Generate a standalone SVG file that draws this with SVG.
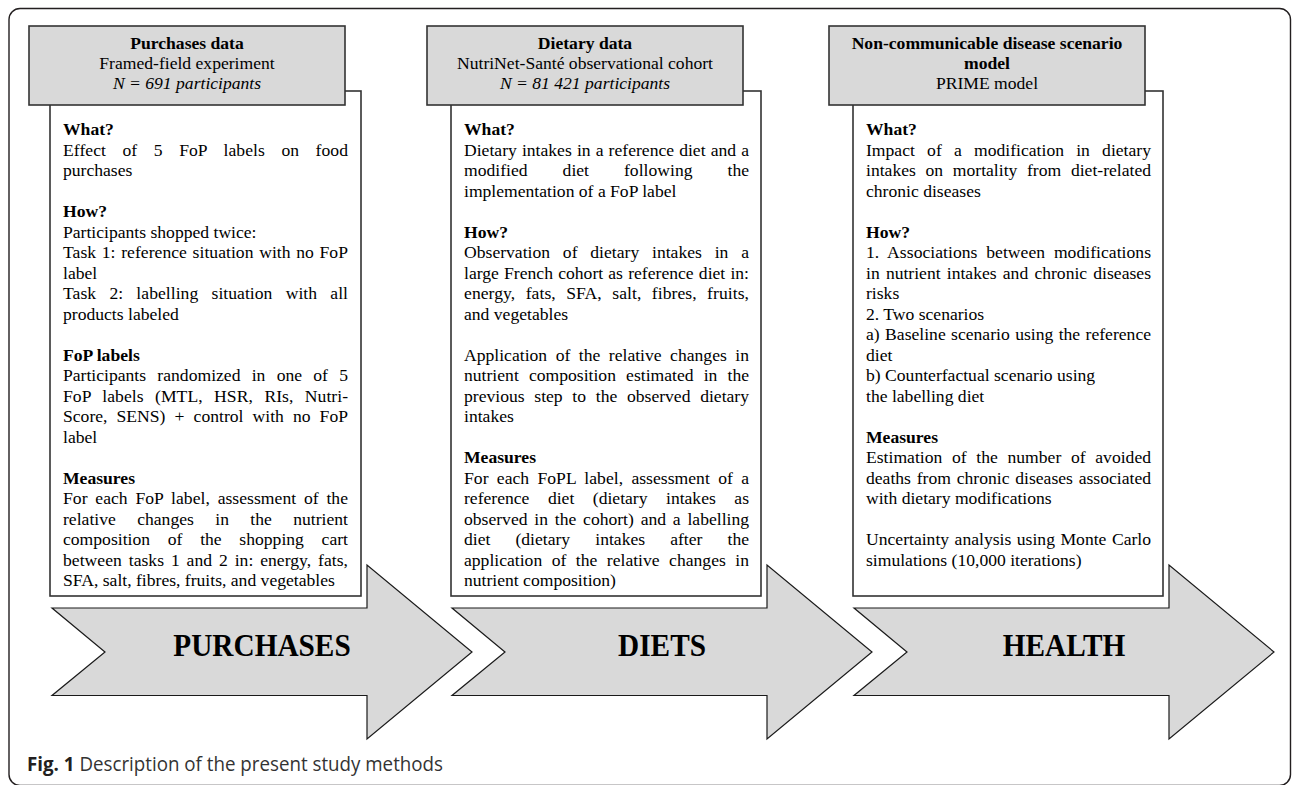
<svg xmlns="http://www.w3.org/2000/svg" width="1292" height="785" viewBox="0 0 1292 785">
<style>
.frame{fill:#fff;stroke:#231f20;stroke-width:1.4}
.hd{fill:#d9d9d9;stroke:#333;stroke-width:1.6}
.bx{fill:#fff;stroke:#333;stroke-width:1.6}
.ar{fill:#d9d9d9;stroke:#1a1a1a;stroke-width:1.2;stroke-linejoin:miter}
.t{font-family:"Liberation Serif","Times New Roman",serif;font-size:17.6px;fill:#000}
.b{font-weight:700}
.it{font-style:italic}
.c{text-anchor:middle}
.big{font-family:"Liberation Serif","Times New Roman",serif;font-weight:700;font-size:29.3px;text-anchor:middle;fill:#000}
.cap{font-family:"Open Sans","Noto Sans","Liberation Sans",sans-serif;font-size:19.5px;fill:#333}
</style>
<rect class="frame" x="9" y="8.5" width="1281.5" height="777" rx="11" ry="11"/>

<g id="flow-arrows">
  <g id="arrow-purchases">
    <polygon class="ar" points="52,608 367,608 367,565 472,652 367,739 367,695.5 52,695.5 105,652"/>
    <text class="big" transform="translate(262,656) scale(1,1.1)">PURCHASES</text>
  </g>
  <g id="arrow-diets">
    <polygon class="ar" points="452,608 767,608 767,565 872,652 767,739 767,695.5 452,695.5 505,652"/>
    <text class="big" transform="translate(662,656) scale(1,1.1)">DIETS</text>
  </g>
  <g id="arrow-health">
    <polygon class="ar" points="854,608 1169,608 1169,565 1274,652 1169,739 1169,695.5 854,695.5 907,652"/>
    <text class="big" transform="translate(1064,656) scale(1,1.1)">HEALTH</text>
  </g>
</g>

<g id="node-purchases">
  <rect class="bx" x="50" y="91" width="311" height="505"/>
  <rect class="hd" x="29" y="26" width="316" height="79"/>
  <text class="t b c" x="187" y="48.5">Purchases data</text>
  <text class="t c" x="187" y="68.5">Framed-field experiment</text>
  <text class="t it c" x="187" y="88.5">N = 691 participants</text>
  <text class="t b" x="63" y="135">What?</text>
  <text class="t" x="63" y="155.5" textLength="285" lengthAdjust="spacing" word-spacing="12.1">Effect of 5 FoP labels on food</text>
  <text class="t" x="63" y="176">purchases</text>
  <text class="t b" x="63" y="217">How?</text>
  <text class="t" x="63" y="237.5">Participants shopped twice:</text>
  <text class="t" x="63" y="258" textLength="285" lengthAdjust="spacing" word-spacing="1.2">Task 1: reference situation with no FoP</text>
  <text class="t" x="63" y="278.5">label</text>
  <text class="t" x="63" y="299" textLength="285" lengthAdjust="spacing" word-spacing="8.8">Task 2: labelling situation with all</text>
  <text class="t" x="63" y="319.5">products labeled</text>
  <text class="t b" x="63" y="360.5">FoP labels</text>
  <text class="t" x="63" y="381" textLength="285" lengthAdjust="spacing" word-spacing="6.85">Participants randomized in one of 5</text>
  <text class="t" x="63" y="401.5" textLength="285" lengthAdjust="spacing" word-spacing="7.1">FoP labels (MTL, HSR, RIs, Nutri-</text>
  <text class="t" x="63" y="422" textLength="285" lengthAdjust="spacing" word-spacing="4.7">Score, SENS) + control with no FoP</text>
  <text class="t" x="63" y="442.5">label</text>
  <text class="t b" x="63" y="483.5">Measures</text>
  <text class="t" x="63" y="504" textLength="285" lengthAdjust="spacing" word-spacing="3.4">For each FoP label, assessment of the</text>
  <text class="t" x="63" y="524.5" textLength="285" lengthAdjust="spacing" word-spacing="17">relative changes in the nutrient</text>
  <text class="t" x="63" y="545" textLength="285" lengthAdjust="spacing" word-spacing="13.3">composition of the shopping cart</text>
  <text class="t" x="63" y="565.5" textLength="285" lengthAdjust="spacing" word-spacing="2.4">between tasks 1 and 2 in: energy, fats,</text>
  <text class="t" x="63" y="586">SFA, salt, fibres, fruits, and vegetables</text>
</g>

<g id="node-diets">
  <rect class="bx" x="451" y="91" width="310" height="505"/>
  <rect class="hd" x="427" y="26" width="316" height="79"/>
  <text class="t b c" x="585" y="48.5">Dietary data</text>
  <text class="t c" x="585" y="68.5">NutriNet-Santé observational cohort</text>
  <text class="t it c" x="585" y="88.5">N = 81 421 participants</text>
  <text class="t b" x="464" y="135">What?</text>
  <text class="t" x="464" y="155.5" textLength="285" lengthAdjust="spacing" word-spacing="0.7">Dietary intakes in a reference diet and a</text>
  <text class="t" x="464" y="176" textLength="285" lengthAdjust="spacing" word-spacing="30.6">modified diet following the</text>
  <text class="t" x="464" y="196.5">implementation of a FoP label</text>
  <text class="t b" x="464" y="237.5">How?</text>
  <text class="t" x="464" y="258" textLength="285" lengthAdjust="spacing" word-spacing="8.4">Observation of dietary intakes in a</text>
  <text class="t" x="464" y="278.5" textLength="285" lengthAdjust="spacing" word-spacing="0.75">large French cohort as reference diet in:</text>
  <text class="t" x="464" y="299" textLength="285" lengthAdjust="spacing" word-spacing="5.9">energy, fats, SFA, salt, fibres, fruits,</text>
  <text class="t" x="464" y="319.5">and vegetables</text>
  <text class="t" x="464" y="360.5" textLength="285" lengthAdjust="spacing" word-spacing="4.1">Application of the relative changes in</text>
  <text class="t" x="464" y="381" textLength="285" lengthAdjust="spacing" word-spacing="5.7">nutrient composition estimated in the</text>
  <text class="t" x="464" y="401.5" textLength="285" lengthAdjust="spacing" word-spacing="5.3">previous step to the observed dietary</text>
  <text class="t" x="464" y="422">intakes</text>
  <text class="t b" x="464" y="463">Measures</text>
  <text class="t" x="464" y="483.5" textLength="285" lengthAdjust="spacing" word-spacing="3.9">For each FoPL label, assessment of a</text>
  <text class="t" x="464" y="504" textLength="285" lengthAdjust="spacing" word-spacing="14.1">reference diet (dietary intakes as</text>
  <text class="t" x="464" y="524.5" textLength="285" lengthAdjust="spacing" word-spacing="2.4">observed in the cohort) and a labelling</text>
  <text class="t" x="464" y="545" textLength="285" lengthAdjust="spacing" word-spacing="20.7">diet (dietary intakes after the</text>
  <text class="t" x="464" y="565.5" textLength="285" lengthAdjust="spacing" word-spacing="5.1">application of the relative changes in</text>
  <text class="t" x="464" y="586">nutrient composition)</text>
</g>

<g id="node-health">
  <rect class="bx" x="853" y="91" width="310" height="505"/>
  <rect class="hd" x="829" y="26" width="316" height="79"/>
  <text class="t b c" x="987" y="48.5">Non-communicable disease scenario</text>
  <text class="t b c" x="987" y="68.5">model</text>
  <text class="t c" x="987" y="88.5">PRIME model</text>
  <text class="t b" x="866" y="135">What?</text>
  <text class="t" x="866" y="155.5" textLength="285" lengthAdjust="spacing" word-spacing="7.8">Impact of a modification in dietary</text>
  <text class="t" x="866" y="176" textLength="285" lengthAdjust="spacing" word-spacing="5.3">intakes on mortality from diet-related</text>
  <text class="t" x="866" y="196.5">chronic diseases</text>
  <text class="t b" x="866" y="237.5">How?</text>
  <text class="t" x="866" y="258" textLength="285" lengthAdjust="spacing" word-spacing="4.4">1. Associations between modifications</text>
  <text class="t" x="866" y="278.5" textLength="285" lengthAdjust="spacing" word-spacing="1.8">in nutrient intakes and chronic diseases</text>
  <text class="t" x="866" y="299">risks</text>
  <text class="t" x="866" y="319.5">2. Two scenarios</text>
  <text class="t" x="866" y="340" textLength="285" lengthAdjust="spacing" word-spacing="1">a) Baseline scenario using the reference</text>
  <text class="t" x="866" y="360.5">diet</text>
  <text class="t" x="866" y="381">b) Counterfactual scenario using</text>
  <text class="t" x="866" y="401.5">the labelling diet</text>
  <text class="t b" x="866" y="442.5">Measures</text>
  <text class="t" x="866" y="463" textLength="285" lengthAdjust="spacing" word-spacing="5.3">Estimation of the number of avoided</text>
  <text class="t" x="866" y="483.5" textLength="285" lengthAdjust="spacing" word-spacing="1.4">deaths from chronic diseases associated</text>
  <text class="t" x="866" y="504">with dietary modifications</text>
  <text class="t" x="866" y="545" textLength="285" lengthAdjust="spacing" word-spacing="1.1">Uncertainty analysis using Monte Carlo</text>
  <text class="t" x="866" y="565.5">simulations (10,000 iterations)</text>
</g>

<g id="caption">
  <text class="cap" x="27" y="771" textLength="416" lengthAdjust="spacingAndGlyphs"><tspan font-weight="700" fill="#231f20">Fig. 1</tspan> Description of the present study methods</text>
</g>
</svg>
